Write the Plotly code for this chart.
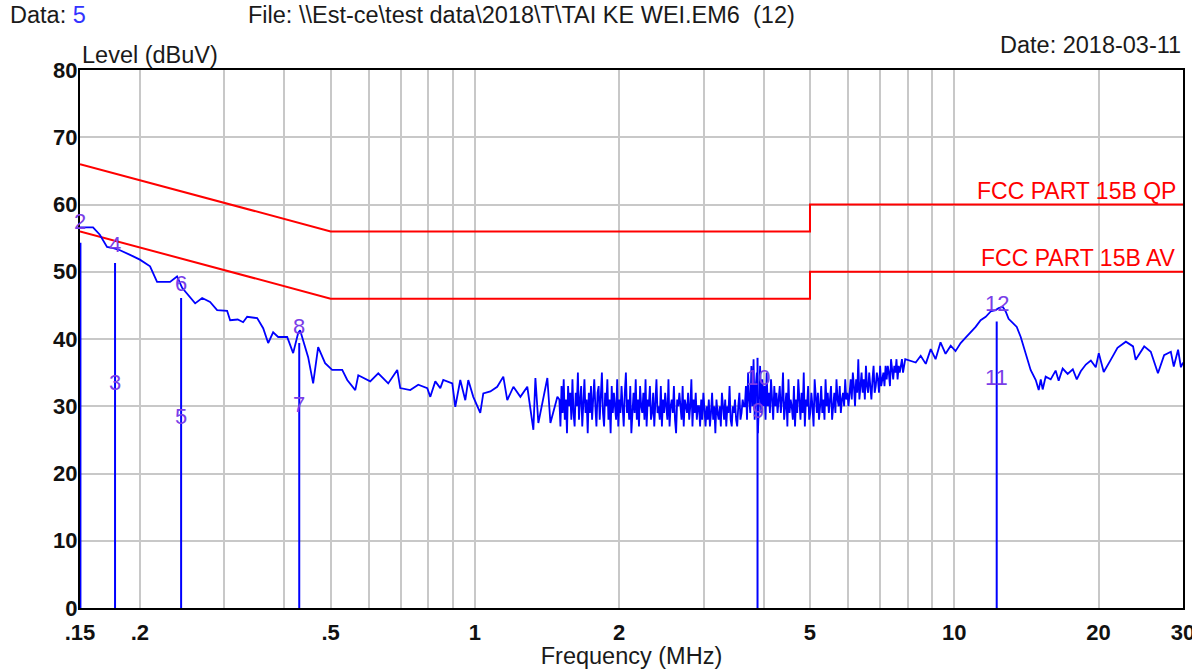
import numpy as np
import plotly.graph_objects as go

# ---------------- data ----------------
# Measured trace, low band (MHz, dBuV)
FREQ_LOW = [0.150, 0.1597, 0.1650, 0.1708, 0.1760, 0.1818, 0.1908, 0.2000, 0.2100, 0.2172,
            0.2312, 0.2391, 0.2450, 0.2608, 0.2697, 0.2802, 0.2898, 0.3041, 0.3085, 0.3200,
            0.3284, 0.3348, 0.3513, 0.3616, 0.3704, 0.3793, 0.3886, 0.4058, 0.4176, 0.4278,
            0.4318, 0.4381, 0.4423, 0.4488, 0.4597, 0.4709, 0.4869, 0.5036, 0.5286, 0.5415,
            0.5628, 0.5710, 0.6047, 0.6285, 0.6593, 0.6885, 0.6985, 0.7329, 0.7617, 0.7954,
            0.8070, 0.8266, 0.8467, 0.8589, 0.8969, 0.9099, 0.9320, 0.9547, 0.9685, 0.9921,
            1.026, 1.041, 1.077, 1.113, 1.146, 1.168, 1.203, 1.244, 1.286, 1.324,
            1.337, 1.356, 1.416, 1.437, 1.486]
LEVEL_LOW = [56.6, 56.6, 55.5, 53.7, 53.5, 53.2, 52.5, 51.8, 50.8, 48.5,
             48.5, 49.3, 47.6, 45.3, 46.1, 45.5, 44.3, 44.2, 42.8, 42.9,
             42.5, 43.3, 43.1, 41.6, 39.4, 41.0, 40.3, 40.3, 37.9, 40.9,
             41.3, 39.9, 38.9, 37.3, 33.4, 38.8, 36.4, 35.4, 35.4, 33.9,
             32.4, 34.6, 33.7, 34.9, 33.4, 35.4, 32.7, 32.4, 33.2, 32.7,
             31.4, 33.7, 32.7, 33.9, 33.4, 29.9, 33.9, 30.9, 33.9, 31.4,
             29.0, 31.9, 32.2, 32.9, 34.4, 30.9, 32.9, 31.4, 32.9, 26.5,
             34.2, 27.5, 34.2, 27.5, 31.4]

# Measured trace, noisy mid band (sweep from NOISE_START to NOISE_STOP MHz)
NOISE_START = 1.5
NOISE_STOP = 7.9
NOISE_LEVEL = [
    31, 27, 33, 29, 34, 28, 31, 26, 33, 30, 32, 28, 34, 29, 27, 32, 30, 35, 28, 31,
    33, 27, 30, 34, 29, 31, 26, 32, 29, 33, 28, 31, 34, 30, 27, 32,
    33, 28, 31, 35, 29, 27, 32, 30, 34, 28, 31, 26, 33, 29, 32, 30, 28, 34, 27, 31,
    29, 33, 30, 27, 32, 35, 29, 31, 28, 33, 26, 30, 32, 29, 34, 28, 31, 27, 33, 30,
    29, 32, 28, 34, 27, 31, 30, 33, 28, 29, 32, 27, 31, 34, 29, 30, 28, 33, 27, 31,
    29, 32, 30, 28, 34, 27, 30, 31, 29, 33, 28, 26, 31, 30, 32, 29, 28, 33, 27, 31,
    30, 29, 32, 28, 30, 34, 27, 31, 29, 32, 28, 30,
    30, 27, 31, 28, 32, 29, 27, 30, 28, 31, 27, 29, 32, 28, 30, 26, 31, 29, 28, 30,
    27, 32, 29, 28, 31, 27, 30, 29, 33, 28, 27, 30, 29, 31, 28, 27, 30, 32, 28, 29,
    31, 30,
    30, 33, 28, 35, 31, 29, 36, 30, 37, 28, 33, 35, 26, 31, 36, 29, 34, 30, 33, 28,
    35, 30, 32, 29, 34, 31, 28, 33, 30, 32, 29, 31,
    33, 29, 31, 35, 28, 30, 32, 27, 34, 29, 31, 30, 28, 33, 27, 31, 29, 34, 30, 28,
    32, 29, 35, 27, 31, 30, 33, 28, 29, 32, 30, 27, 34, 31, 29, 32, 28, 30, 33, 29,
    31, 28, 34, 30, 32, 29, 31, 33, 28, 30, 32, 29, 34, 31, 30, 33, 29, 31, 32, 30,
    34, 31, 32, 30,
    32, 34, 31, 35, 33, 30, 34, 32, 37, 31, 33, 35, 32, 34, 31, 36, 33, 32, 35, 33,
    31, 34, 36, 32, 33, 35, 34, 32, 36, 33, 34, 35, 33, 36,
    34, 36, 35, 33, 37, 35, 34, 36, 35, 37, 34, 36, 35, 36, 37, 35, 36, 37]

# Measured trace, high band
FREQ_HIGH = [8.31, 8.51, 8.72, 8.93, 9.14, 9.36, 9.59, 9.83, 10.06, 10.31,
             10.56, 10.82, 11.08, 11.35, 11.63, 11.91, 12.20, 12.38, 12.62, 12.80,
             12.98, 13.24, 13.50, 13.76, 14.10, 14.43, 14.79, 15.00, 15.15, 15.29,
             15.51, 15.89, 16.27, 16.51, 16.83, 17.24, 17.67, 18.01, 18.36, 18.81,
             19.27, 19.73, 20.02, 20.5, 21.2, 21.9, 22.8, 23.6, 23.9, 24.5,
             24.9, 25.7, 26.6, 27.4, 28.3, 28.7, 29.3, 29.7, 30.0]
LEVEL_HIGH = [36.5, 37.5, 36.3, 38.5, 37.0, 39.5, 37.8, 39.0, 38.2, 39.4,
              40.2, 41.0, 41.8, 42.8, 43.3, 44.1, 44.3, 44.6, 44.8, 44.1,
              43.0, 42.4, 41.8, 40.3, 37.9, 35.4, 33.9, 32.4, 34.0, 32.5,
              34.4, 34.0, 35.3, 33.8, 35.6, 34.8, 35.5, 34.0, 35.2, 36.2,
              36.8, 35.8, 37.9, 35.1, 36.9, 38.7, 39.6, 38.9, 36.9, 38.2,
              38.9, 38.1, 34.9, 37.6, 38.1, 35.9, 38.4, 35.8, 36.5]

# Limit lines
LIMIT_FREQ = [0.15, 0.5, 5.0, 5.0, 30.0]
QP_LIMIT = [66, 56, 56, 60, 60]
AV_LIMIT = [56, 46, 46, 50, 50]
QP_NAME = "FCC PART 15B QP"
AV_NAME = "FCC PART 15B AV"

# Markers
MARKER_FREQ = [0.1503, 0.1775, 0.2438, 0.4300, 3.886, 12.26]
MARKER_LINE = [54.3, 51.3, 46.1, 39.4, 37.2, 42.6]
MARKER_QP_NO = ["2", "4", "6", "8", "10", "12"]
MARKER_QP_LVL = [57.4, 54.0, 48.3, 41.8, 34.3, 45.3]
MARKER_AV_NO = ["", "3", "5", "7", "9", "11"]
MARKER_AV_LVL = [None, 33.5, 28.5, 30.3, 29.4, 34.3]

# Axis ticks
GRID_F = [0.15, 0.2, 0.3, 0.4, 0.5, 0.6, 0.7, 0.8, 0.9, 1, 2, 3, 4, 5, 6, 7, 8, 9, 10, 20, 30]
GRID_LABEL = [".15", ".2", "", "", ".5", "", "", "", "", "1", "2", "", "", "5",
              "", "", "", "", "10", "20", "30"]

# ---------------- figure ----------------
noise_f = np.geomspace(NOISE_START, NOISE_STOP, len(NOISE_LEVEL))
trace_f = list(FREQ_LOW) + list(noise_f) + list(FREQ_HIGH)
trace_l = list(LEVEL_LOW) + list(NOISE_LEVEL) + list(LEVEL_HIGH)

BLUE = "#0000ff"
RED = "#ff0000"
MK = "#7a3ee8"
FONT = "Liberation Sans, Arial, sans-serif"

fig = go.Figure()
fig.add_trace(go.Scatter(x=LIMIT_FREQ, y=QP_LIMIT, mode="lines",
                         line=dict(color=RED, width=2), hoverinfo="skip"))
fig.add_trace(go.Scatter(x=LIMIT_FREQ, y=AV_LIMIT, mode="lines",
                         line=dict(color=RED, width=2), hoverinfo="skip"))

mx, my = [], []
for f, h in zip(MARKER_FREQ, MARKER_LINE):
    mx += [f, f, None]
    my += [0, h, None]
fig.add_trace(go.Scatter(x=mx, y=my, mode="lines",
                         line=dict(color=BLUE, width=2), hoverinfo="skip"))

fig.add_trace(go.Scatter(x=trace_f, y=trace_l, mode="lines",
                         line=dict(color=BLUE, width=1.8), hoverinfo="skip"))

MKF = dict(family=FONT, size=22, color=MK)
ann = []
for f, t, v in zip(MARKER_FREQ, MARKER_QP_NO, MARKER_QP_LVL):
    ann.append(dict(x=np.log10(f), y=v, text=t, showarrow=False, xref="x", yref="y",
                    font=MKF, xanchor="center", yanchor="middle"))
for f, t, v in zip(MARKER_FREQ, MARKER_AV_NO, MARKER_AV_LVL):
    if v is None:
        continue
    ann.append(dict(x=np.log10(f), y=v, text=t, showarrow=False, xref="x", yref="y",
                    font=MKF, xanchor="center", yanchor="middle"))

LIMF = dict(family=FONT, size=23, color=RED)
ann.append(dict(x=0.9955, y=QP_LIMIT[-1] + 2, xref="paper", yref="y", text=QP_NAME,
                showarrow=False, xanchor="right", yanchor="middle", font=LIMF))
ann.append(dict(x=0.9955, y=AV_LIMIT[-1] + 2, xref="paper", yref="y", text=AV_NAME,
                showarrow=False, xanchor="right", yanchor="middle", font=LIMF))

HDR = dict(family=FONT, size=23.5, color="#1a1a1a")
ann.append(dict(x=-0.0653, y=1.1022, xref="paper", yref="paper",
                text="Data: <span style='color:#3333ff'>5</span>", showarrow=False,
                xanchor="left", yanchor="middle", font=HDR))
ann.append(dict(x=0.1505, y=1.1022, xref="paper", yref="paper",
                text="File: \\\\Est-ce\\test data\\2018\\T\\TAI KE WEI.EM6  (12)", showarrow=False,
                xanchor="left", yanchor="middle", font=HDR))
ann.append(dict(x=1.0, y=1.0465, xref="paper", yref="paper",
                text="Date: 2018-03-11", showarrow=False,
                xanchor="right", yanchor="middle", font=HDR))
ann.append(dict(x=0.0, y=1.0279, xref="paper", yref="paper",
                text="Level (dBuV)", showarrow=False,
                xanchor="left", yanchor="middle", font=HDR))

fig.update_layout(
    width=1192, height=669,
    margin=dict(l=80, r=9, t=70, b=61),
    plot_bgcolor="white", paper_bgcolor="white",
    showlegend=False,
    font=dict(family=FONT, size=22, color="#1a1a1a"),
    annotations=ann,
)
TICKF = dict(family=FONT, size=22, color="#111", weight="bold")
fig.update_xaxes(type="log", range=[np.log10(0.15), np.log10(30) + 1e-5],
                 tickmode="array", tickvals=GRID_F, ticktext=GRID_LABEL,
                 showgrid=True, gridcolor="#c8c8c8", gridwidth=2,
                 showline=True, linecolor="black", linewidth=2, mirror=True,
                 ticks="", zeroline=False, automargin=False, ticklabelstandoff=4,
                 ticklabeloverflow="allow",
                 tickfont=TICKF,
                 title=dict(text="Frequency (MHz)", standoff=0,
                            font=dict(family=FONT, size=23.5, color="#1a1a1a")))
fig.update_yaxes(range=[0, 80], tickmode="linear", tick0=0, dtick=10,
                 showgrid=True, gridcolor="#c8c8c8", gridwidth=2,
                 showline=True, linecolor="black", linewidth=2, mirror=True,
                 ticks="", zeroline=False, automargin=False, ticklabelstandoff=-4,
                 ticklabeloverflow="allow",
                 tickfont=TICKF)

fig.write_html("out.html", config={"displayModeBar": False},
               post_script="document.body.style.margin='0';document.body.style.overflow='hidden';")
